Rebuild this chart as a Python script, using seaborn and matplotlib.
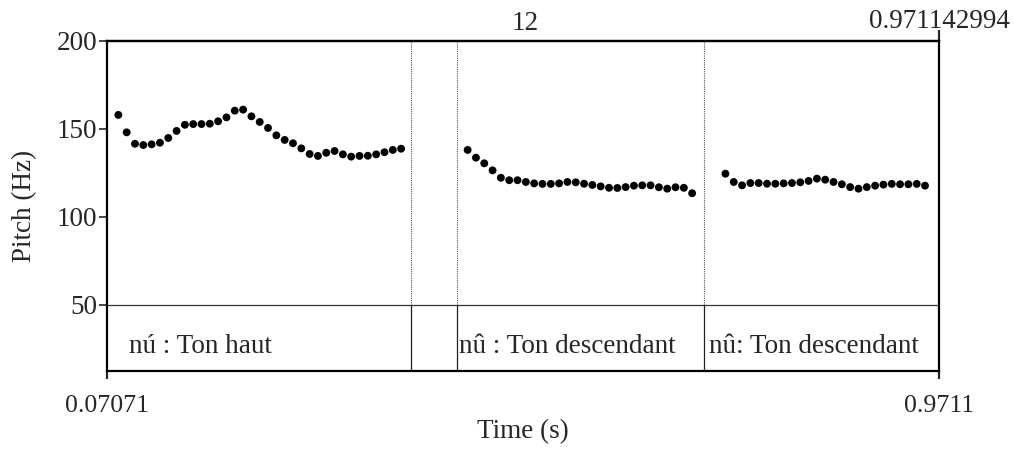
import matplotlib
matplotlib.use("Agg")
import matplotlib.pyplot as plt
from matplotlib.transforms import offset_copy
import seaborn as sns
import pandas as pd

# ---------------- data ----------------
times = [
    0.083, 0.092, 0.101, 0.110, 0.119, 0.128, 0.137, 0.146, 0.155, 0.164,
    0.173, 0.182, 0.191, 0.200, 0.209, 0.218, 0.227, 0.236, 0.245, 0.254,
    0.263, 0.272, 0.281, 0.290, 0.299, 0.308, 0.317, 0.326, 0.335, 0.344,
    0.353, 0.362, 0.371, 0.380, 0.389,
    0.461, 0.470, 0.479, 0.488, 0.497, 0.506, 0.515, 0.524, 0.533, 0.542,
    0.551, 0.560, 0.569, 0.578, 0.587, 0.596, 0.605, 0.614, 0.623, 0.632,
    0.641, 0.650, 0.659, 0.668, 0.677, 0.686, 0.695, 0.704,
    0.740, 0.749, 0.758, 0.767, 0.776, 0.785, 0.794, 0.803, 0.812, 0.821,
    0.830, 0.839, 0.848, 0.857, 0.866, 0.875, 0.884, 0.893, 0.902, 0.911,
    0.920, 0.929, 0.938, 0.947, 0.956,
]
pitch = [
    158.0, 148.1, 141.6, 140.9, 141.3, 142.2, 144.9, 148.9, 152.4, 152.8,
    152.8, 153.0, 154.4, 156.6, 160.4, 161.0, 157.2, 154.0, 150.6, 146.4,
    143.8, 141.9, 139.0, 135.8, 134.7, 136.5, 137.5, 135.6, 134.3, 134.7,
    134.8, 135.6, 136.8, 138.1, 138.8,
    138.1, 133.7, 130.5, 126.5, 122.3, 120.9, 120.9, 119.9, 119.1, 118.8,
    118.8, 119.1, 119.9, 119.7, 118.9, 118.2, 117.4, 116.6, 116.5, 117.0,
    117.8, 118.0, 118.0, 116.9, 116.1, 116.9, 116.6, 113.5,
    124.6, 119.9, 118.0, 119.3, 119.3, 118.9, 118.9, 119.1, 119.3, 119.7,
    120.5, 121.8, 121.2, 119.9, 118.6, 117.0, 116.1, 117.0, 117.8, 118.4,
    118.8, 118.6, 118.6, 118.8, 117.8,
]
boundaries = [0.3997, 0.4495, 0.7168]
interval_starts = [0.07071, 0.4495, 0.7168]
interval_labels = ["nú : Ton haut", "nû : Ton descendant", "nû: Ton descendant"]
t_min, t_max = 0.07071, 0.971142994
x_tick_labels = ["0.07071", "0.9711"]
top_label_mid = "12"
top_label_right = "0.971142994"
y_ticks = [50, 100, 150, 200]

df = pd.DataFrame({"Time (s)": times, "Pitch (Hz)": pitch})

# ---------------- style ----------------
FS = 19.5
sns.set_style("white")
plt.rcParams["font.family"] = ["Liberation Serif", "DejaVu Serif"]
plt.rcParams["font.size"] = FS

fig = plt.figure(figsize=(10.14, 4.5), dpi=100)
ax = fig.add_axes([107 / 1014, 1 - 371 / 450, (939 - 107) / 1014, (371 - 41) / 450])

sns.scatterplot(data=df, x="Time (s)", y="Pitch (Hz)", ax=ax, color="black",
                s=32, edgecolor="none", linewidth=0, legend=False, zorder=3)

y_low, y_tier = 12.5, 50
ax.set_xlim(t_min, t_max)
ax.set_ylim(y_low, 200)

# tier separator and boundaries
ax.axhline(y_tier, color="#333333", lw=0.9, zorder=2)
ax.vlines(boundaries, y_tier, 200, colors="#555555", linestyles=(0, (1, 1)), lw=0.8, zorder=1)
ax.vlines(boundaries, y_low, y_tier, colors="#222222", lw=0.9, zorder=2)

offsets_pt = [16, 1.5, 3.5]
for start, lab, off in zip(interval_starts, interval_labels, offsets_pt):
    ax.annotate(lab, xy=(start, 22.7), xytext=(off, 0), textcoords="offset points",
                ha="left", va="baseline", fontsize=FS)

# spines
for sp in ax.spines.values():
    sp.set_visible(True)
    sp.set_color("black")
    sp.set_linewidth(1.6)

# ticks
ax.set_yticks(y_ticks)
ax.set_yticklabels([str(v) for v in y_ticks])
ax.set_xticks([t_min, 0.9711])
ax.set_xticklabels(x_tick_labels)
ax.tick_params(axis="y", direction="out", length=6, width=1.2, pad=1, labelsize=FS, left=True)
ax.tick_params(axis="x", direction="out", length=6, width=1.6, pad=11, labelsize=18.6, bottom=True)

ax.set_xlabel("Time (s)", fontsize=FS, labelpad=2)
ax.set_ylabel("Pitch (Hz)", fontsize=FS, labelpad=14)

# top axis with right-end tick
sec = ax.secondary_xaxis("top")
sec.set_xticks([t_max])
sec.set_xticklabels([top_label_right])
sec.tick_params(axis="x", direction="out", length=8, width=1.6, pad=-3, labelsize=FS)
sec.spines["top"].set_linewidth(1.6)
ax.text(0.5, 1.0, top_label_mid, ha="center", va="bottom", fontsize=FS,
        transform=offset_copy(ax.transAxes, fig=fig, x=1.5, y=3.5, units="points"))

fig.savefig("out.png", dpi=100, facecolor="white")
